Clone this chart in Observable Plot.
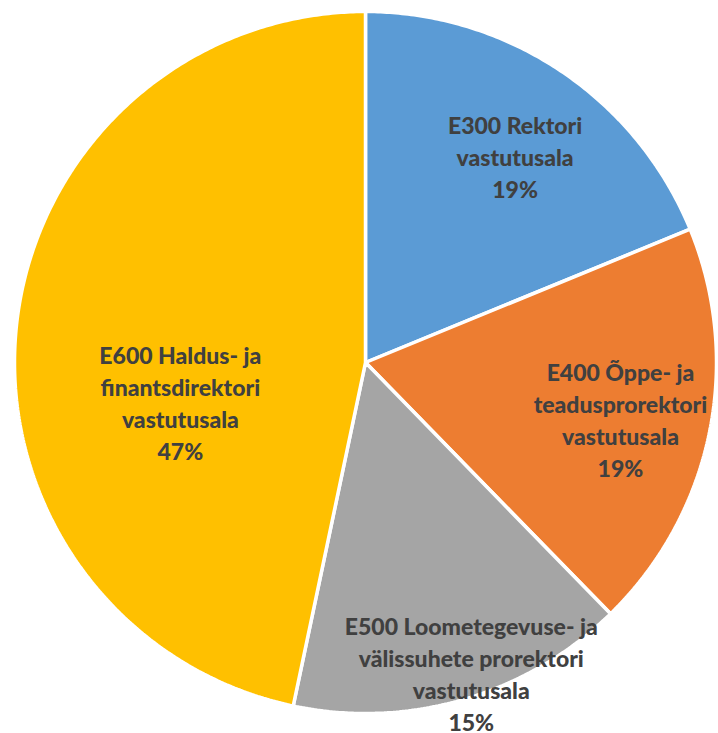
<!DOCTYPE html>
<html>
<head>
<meta charset="utf-8">
<script src="https://cdn.jsdelivr.net/npm/d3@7"></script>
<script src="https://cdn.jsdelivr.net/npm/@observablehq/plot@0.6"></script>
<style>
  html, body { margin: 0; padding: 0; background: #fff; }
  #chart svg { display: block; }
</style>
</head>
<body>
<div id="chart"></div>
<script>
// Data
const categories = [
  "E300 Rektori\nvastutusala",
  "E400 Õppe- ja\nteadusprorektori\nvastutusala",
  "E500 Loometegevuse- ja\nvälissuhete prorektori\nvastutusala",
  "E600 Haldus- ja\nfinantsdirektori\nvastutusala"
];
const shares = [18.8, 18.9, 15.6, 46.7];
const percentLabels = ["19%", "19%", "15%", "47%"];

// Style / layout (not data)
const colors = ["#5B9BD5", "#ED7D31", "#A5A5A5", "#FFC000"];
const labelLayout = [
  {r: 0.726, da: 2.1},
  {r: 0.744, da: 0.8},
  {r: 0.935, da: -2.6},
  {r: 0.539, da: -17.8}
];

const pie = d3.pie().sort(null).startAngle(0).endAngle(2 * Math.PI)(shares);

// Slice outlines (center + arc samples) in unit-circle coordinates
const outline = [];
pie.forEach((s, i) => {
  const n = Math.max(4, Math.ceil((s.endAngle - s.startAngle) / (Math.PI / 360)));
  outline.push({cat: categories[i], x: 0, y: 0});
  for (let k = 0; k <= n; k++) {
    const a = s.startAngle + (s.endAngle - s.startAngle) * k / n;
    outline.push({cat: categories[i], x: Math.sin(a), y: Math.cos(a)});
  }
});

const labels = pie.map((s, i) => {
  const mid = (s.startAngle + s.endAngle) / 2 + labelLayout[i].da * Math.PI / 180;
  return {
    text: categories[i] + "\n" + percentLabels[i],
    x: labelLayout[i].r * Math.sin(mid),
    y: labelLayout[i].r * Math.cos(mid)
  };
});

const chart = Plot.plot({
  width: 718,
  height: 733,
  marginLeft: 14,
  marginRight: 2,
  marginTop: 11,
  marginBottom: 20,
  x: {domain: [-1, 1], axis: null},
  y: {domain: [-1, 1], axis: null},
  color: {domain: categories, range: colors},
  marks: [
    Plot.line(outline, {
      x: "x", y: "y", z: "cat", fill: "cat",
      stroke: "white", strokeWidth: 3.5, strokeLinejoin: "miter",
      curve: "linear-closed"
    }),
    Plot.text(labels, {
      x: "x", y: "y", text: "text",
      fill: "#404040", fontSize: 23, fontWeight: 900,
      fontFamily: "Lato, 'Open Sans', sans-serif",
      lineHeight: 1.39, textAnchor: "middle"
    })
  ]
});
document.getElementById("chart").appendChild(chart);
</script>
</body>
</html>
